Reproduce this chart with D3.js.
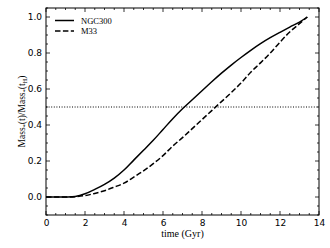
<!DOCTYPE html>
<html><head><meta charset="utf-8">
<script src="https://cdn.jsdelivr.net/npm/d3@7"></script>
<style>body{margin:0;background:#fff}</style>
</head><body>
<svg id="c" width="330" height="248"></svg>
<script>
const times = [0,0.5,1,1.5,2,2.5,3,3.5,4,4.5,5,5.5,6,6.5,7,7.5,8,8.5,9,9.5,10,10.5,11,11.5,12,12.5,13,13.4];
const ngc300 = [0,0,0,0.003,0.018,0.042,0.07,0.105,0.15,0.205,0.26,0.315,0.375,0.435,0.49,0.54,0.59,0.64,0.688,0.733,0.775,0.815,0.852,0.885,0.915,0.944,0.972,1.0];
const m33 = [0,0,0,0.002,0.008,0.02,0.035,0.055,0.077,0.11,0.145,0.185,0.23,0.283,0.33,0.38,0.43,0.48,0.53,0.58,0.633,0.693,0.745,0.8,0.86,0.917,0.963,1.0];
const xTicks = [0,2,4,6,8,10,12,14];
const yTicks = [0.0,0.2,0.4,0.6,0.8,1.0];
const halfLevel = 0.5;
const seriesNames = ["NGC300","M33"];

const svg = d3.select("#c");
const L=46,R=319,T=8,B=215;
const x = d3.scaleLinear().domain([0,14]).range([L,R]);
const y = d3.scaleLinear().domain([-0.1,1.05]).range([B,T]);
const sans = "'DejaVu Sans', sans-serif";
const serif = "'Liberation Serif', 'DejaVu Serif', serif";

svg.append("rect").attr("x",L).attr("y",T).attr("width",R-L).attr("height",B-T)
  .attr("fill","none").attr("stroke","#000").attr("stroke-width",1);

const xMinor = d3.range(0,14.01,0.5);
const yMinor = d3.range(-0.1,1.051,0.05).map(v=>Math.round(v*100)/100);
const g = svg.append("g").attr("stroke","#000").attr("stroke-width",0.8);
xMinor.forEach(v=>{
  const major = xTicks.includes(v); const len = major?4:2;
  g.append("line").attr("x1",x(v)).attr("x2",x(v)).attr("y1",B).attr("y2",B-len);
  g.append("line").attr("x1",x(v)).attr("x2",x(v)).attr("y1",T).attr("y2",T+len);
});
yMinor.forEach(v=>{
  const major = yTicks.some(t=>Math.abs(t-v)<1e-6); const len = major?4:2;
  g.append("line").attr("y1",y(v)).attr("y2",y(v)).attr("x1",L).attr("x2",L+len);
  g.append("line").attr("y1",y(v)).attr("y2",y(v)).attr("x1",R).attr("x2",R-len);
});

const xa = svg.append("g").attr("transform",`translate(0,${B})`)
  .call(d3.axisBottom(x).tickValues(xTicks).tickSize(0).tickPadding(5).tickFormat(d3.format("d")));
xa.select(".domain").remove();
xa.selectAll("text").attr("font-family",sans).attr("font-size",9).attr("fill","#000");
const ya = svg.append("g").attr("transform",`translate(${L},0)`)
  .call(d3.axisLeft(y).tickValues(yTicks).tickSize(0).tickPadding(4).tickFormat(d3.format(".1f")));
ya.select(".domain").remove();
ya.selectAll("text").attr("font-family",sans).attr("font-size",9).attr("fill","#000");

svg.append("line").attr("x1",L).attr("x2",R).attr("y1",y(halfLevel)).attr("y2",y(halfLevel))
  .attr("stroke","#000").attr("stroke-width",1).attr("stroke-dasharray","1,1.6");

const line = d3.line().x((d,i)=>x(times[i])).y(d=>y(d)).curve(d3.curveCatmullRom);
svg.append("path").attr("d",line(ngc300)).attr("fill","none").attr("stroke","#000").attr("stroke-width",1.5);
svg.append("path").attr("d",line(m33)).attr("fill","none").attr("stroke","#000").attr("stroke-width",1.5)
  .attr("stroke-dasharray","5.5,2.4");

const lg = svg.append("g");
lg.append("line").attr("x1",55).attr("x2",74).attr("y1",20.5).attr("y2",20.5).attr("stroke","#000").attr("stroke-width",1.5);
lg.append("line").attr("x1",55).attr("x2",74).attr("y1",31).attr("y2",31).attr("stroke","#000").attr("stroke-width",1.5).attr("stroke-dasharray","5.5,2.4");
lg.append("text").attr("x",81).attr("y",23.5).text(seriesNames[0]).attr("font-family",serif).attr("font-size",8.5).attr("fill","#000");
lg.append("text").attr("x",81).attr("y",34).text(seriesNames[1]).attr("font-family",serif).attr("font-size",8.5).attr("fill","#000");

svg.append("text").attr("x",(L+R)/2).attr("y",237).attr("text-anchor","middle")
  .attr("font-family",serif).attr("font-size",10).attr("fill","#000").text("time (Gyr)");
const yl = svg.append("text").attr("transform",`translate(25,${(T+B)/2}) rotate(-90)`)
  .attr("text-anchor","middle").attr("font-family",serif).attr("font-size",9.5).attr("fill","#000");
yl.append("tspan").text("Mass");
yl.append("tspan").attr("font-size",6.5).attr("dy",2).text("*");
yl.append("tspan").attr("dy",-2).text("(t)/Mass");
yl.append("tspan").attr("font-size",6.5).attr("dy",2).text("*");
yl.append("tspan").attr("dy",-2).text("(t");
yl.append("tspan").attr("font-size",6.5).attr("dy",2).text("H");
yl.append("tspan").attr("dy",-2).text(")");
</script>
</body></html>
